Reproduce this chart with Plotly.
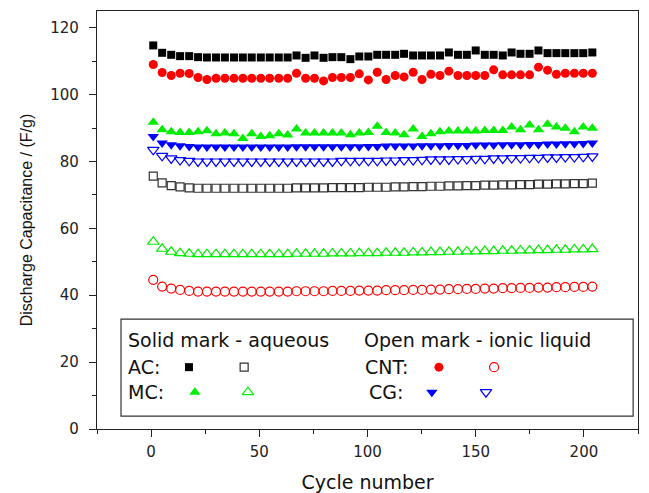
import plotly.graph_objects as go

# Cycle positions (50 evenly spaced measurements)
cycle = [round(1 + 4.14 * i, 1) for i in range(50)]

# Solid marks - aqueous electrolyte
ac_aq = [114.7, 112.5, 111.9, 111.5, 111.5, 111.2, 111.1, 111.1, 111.1, 111.1,
         111.1, 111.1, 111.1, 111.1, 111.1, 111.1, 111.7, 111.0, 111.7, 111.0,
         111.2, 111.2, 110.6, 111.4, 111.4, 111.9, 111.9, 111.9, 112.2, 111.7,
         111.7, 111.7, 111.7, 112.6, 111.9, 111.9, 113.2, 111.9, 111.9, 111.7,
         112.6, 112.2, 112.2, 113.2, 112.4, 112.4, 112.4, 112.4, 112.4, 112.6]
cnt_aq = [109.0, 106.6, 105.7, 106.4, 106.3, 105.1, 104.5, 104.9, 104.9, 104.9,
          104.9, 104.9, 104.9, 104.9, 104.9, 104.9, 106.4, 104.9, 104.9, 104.1,
          105.1, 105.1, 105.1, 106.2, 104.4, 106.7, 104.5, 105.7, 105.3, 106.7,
          104.5, 106.1, 105.7, 107.0, 105.7, 105.7, 105.7, 105.7, 107.4, 105.9,
          105.9, 105.9, 105.9, 108.2, 107.3, 106.1, 106.4, 106.4, 106.4, 106.4]
mc_aq = [91.7, 89.5, 88.9, 88.7, 88.7, 88.9, 89.2, 88.3, 88.5, 88.3,
         86.9, 88.3, 87.5, 87.7, 88.3, 87.9, 89.7, 88.5, 88.5, 88.5,
         88.5, 88.5, 88.0, 88.5, 88.7, 90.5, 88.7, 88.5, 88.0, 89.7,
         87.5, 88.3, 88.9, 89.1, 89.1, 89.1, 89.1, 89.3, 89.3, 89.3,
         90.3, 89.5, 90.9, 89.5, 91.1, 90.3, 89.9, 88.9, 90.3, 89.9]
cg_aq = [87.5, 85.5, 85.0, 84.7, 84.5, 84.3, 84.3, 84.3, 84.3, 84.3,
         84.3, 84.3, 84.3, 84.3, 84.3, 84.3, 84.4, 84.4, 84.4, 84.4,
         84.4, 84.4, 84.4, 84.4, 84.5, 84.5, 84.6, 84.6, 84.6, 84.6,
         84.7, 84.7, 84.7, 84.8, 84.8, 84.8, 84.9, 84.9, 84.9, 85.0,
         85.0, 85.0, 85.1, 85.1, 85.2, 85.2, 85.3, 85.3, 85.4, 85.5]

# Open marks - ionic liquid electrolyte
ac_il = [75.6, 73.6, 72.8, 72.4, 72.1, 72.0, 72.0, 72.0, 72.0, 72.0,
         72.0, 72.0, 72.0, 72.0, 72.0, 72.0, 72.1, 72.1, 72.1, 72.1,
         72.2, 72.2, 72.2, 72.2, 72.3, 72.3, 72.3, 72.4, 72.4, 72.5,
         72.5, 72.6, 72.6, 72.7, 72.7, 72.8, 72.8, 72.9, 72.9, 73.0,
         73.0, 73.1, 73.1, 73.2, 73.2, 73.3, 73.3, 73.4, 73.4, 73.5]
mc_il = [56.0, 53.9, 53.0, 52.6, 52.4, 52.3, 52.3, 52.3, 52.3, 52.3,
         52.3, 52.3, 52.3, 52.3, 52.3, 52.3, 52.4, 52.4, 52.4, 52.4,
         52.5, 52.5, 52.5, 52.6, 52.6, 52.6, 52.7, 52.7, 52.7, 52.8,
         52.8, 52.9, 52.9, 53.0, 53.0, 53.1, 53.1, 53.2, 53.2, 53.3,
         53.3, 53.4, 53.4, 53.5, 53.5, 53.6, 53.6, 53.7, 53.7, 53.8]
cnt_il = [44.6, 42.6, 42.0, 41.6, 41.3, 41.1, 41.1, 41.1, 41.1, 41.1,
          41.1, 41.1, 41.1, 41.1, 41.1, 41.1, 41.2, 41.2, 41.2, 41.2,
          41.3, 41.3, 41.3, 41.4, 41.4, 41.4, 41.5, 41.5, 41.5, 41.6,
          41.6, 41.7, 41.7, 41.8, 41.8, 41.9, 41.9, 42.0, 42.0, 42.1,
          42.1, 42.2, 42.2, 42.3, 42.3, 42.4, 42.4, 42.5, 42.5, 42.6]
cg_il = [83.5, 81.7, 80.9, 80.4, 80.2, 80.0, 80.0, 80.0, 80.0, 80.0,
         80.0, 80.0, 80.0, 80.0, 80.0, 80.0, 80.0, 80.0, 80.0, 80.0,
         80.0, 80.2, 80.2, 80.2, 80.2, 80.2, 80.3, 80.3, 80.4, 80.4,
         80.5, 80.6, 80.6, 80.6, 80.7, 80.7, 80.8, 80.8, 80.9, 80.9,
         81.0, 81.0, 81.1, 81.1, 81.2, 81.2, 81.3, 81.3, 81.4, 81.5]

x_ticks = [0, 50, 100, 150, 200]
y_ticks = [0, 20, 40, 60, 80, 100, 120]

FONT = "DejaVu Sans, Liberation Sans, Arial, sans-serif"
AX = "#222222"

styles = {
    "AC aqueous": (ac_aq, "square", "#000000", 8),
    "CNT aqueous": (cnt_aq, "circle", "#ff0000", 9),
    "MC aqueous": (mc_aq, "triangle-up", "#00ee00", 10),
    "CG aqueous": (cg_aq, "triangle-down", "#0000ff", 10),
    "AC ionic liquid": (ac_il, "square-open", "#333333", 8),
    "MC ionic liquid": (mc_il, "triangle-up-open", "#00ee00", 10),
    "CNT ionic liquid": (cnt_il, "circle-open", "#ff0000", 9),
    "CG ionic liquid": (cg_il, "triangle-down-open", "#0000ff", 10),
}

fig = go.Figure()
for name, (vals, sym, col, size) in styles.items():
    fig.add_trace(go.Scatter(
        x=cycle, y=vals, mode="markers", name=name, showlegend=False,
        marker=dict(symbol=sym, size=size, color=col,
                    line=dict(width=1.2 if "open" in sym else 0, color=col)),
    ))

# Custom legend box (positions in plot-area fractions)
legend_marks = [
    ("square", "#000000", 8, 0.170, 0.148),
    ("square-open", "#333333", 8, 0.272, 0.148),
    ("triangle-up", "#00ee00", 10, 0.181, 0.088),
    ("triangle-up-open", "#00ee00", 10, 0.279, 0.088),
    ("circle", "#ff0000", 9, 0.632, 0.148),
    ("circle-open", "#ff0000", 9, 0.734, 0.148),
    ("triangle-down", "#0000ff", 10, 0.619, 0.088),
    ("triangle-down-open", "#0000ff", 10, 0.719, 0.088),
]
for sym, col, size, lx, ly in legend_marks:
    fig.add_trace(go.Scatter(
        x=[lx], y=[ly], xaxis="x2", yaxis="y2", mode="markers", showlegend=False,
        hoverinfo="skip",
        marker=dict(symbol=sym, size=size, color=col,
                    line=dict(width=1.2 if "open" in sym else 0, color=col)),
    ))

legend_texts = [
    ("Solid mark - aqueous", 0.054, 0.213),
    ("Open mark - ionic liquid", 0.490, 0.213),
    ("AC:", 0.054, 0.148),
    ("MC:", 0.054, 0.088),
    ("CNT:", 0.492, 0.148),
    ("CG:", 0.499, 0.088),
]
annotations = [
    dict(text=t, x=x, y=y, xref="paper", yref="paper", xanchor="left", yanchor="middle",
         showarrow=False, font=dict(family=FONT, size=19, color="#111111"))
    for t, x, y in legend_texts
]

# page body adds an 8px offset; compensate in size/margins
fig.update_layout(
    width=641, height=485,
    margin=dict(l=89, r=11, t=3, b=64, autoexpand=False),
    paper_bgcolor="white", plot_bgcolor="white",
    font=dict(family=FONT, size=15, color=AX),
    annotations=annotations,
    shapes=[dict(type="rect", xref="paper", yref="paper", x0=0.0444, x1=0.991,
                 y0=0.031, y1=0.263, line=dict(color="#333333", width=1.2))],
    xaxis=dict(
        range=[-25, 225], tickvals=x_ticks, ticks="outside", ticklen=7, tickwidth=1,
        tickcolor=AX, showline=True, linecolor=AX, linewidth=1.2,
        mirror=True, showgrid=False, zeroline=False,
        minor=dict(ticks="outside", dtick=25, tick0=0, ticklen=4, tickcolor=AX, showgrid=False),
        title=dict(text="Cycle number", font=dict(size=19, color="#111111"), standoff=17),
        tickfont=dict(size=15), ticklabelstandoff=2,
    ),
    yaxis=dict(
        range=[0, 125], tickvals=y_ticks, ticks="outside", ticklen=7, tickwidth=1,
        tickcolor=AX, showline=True, linecolor=AX, linewidth=1.2,
        mirror=True, showgrid=False, zeroline=False,
        minor=dict(ticks="outside", dtick=10, tick0=0, ticklen=4, tickcolor=AX, showgrid=False),
        title=dict(text="Discharge Capacitance / (F/g)",
                   font=dict(family="Liberation Sans, Arial, sans-serif", size=16, color="#111111"),
                   standoff=13),
        tickfont=dict(size=15), ticklabelstandoff=7,
    ),
    xaxis2=dict(overlaying="x", range=[0, 1], visible=False),
    yaxis2=dict(overlaying="y", range=[0, 1], visible=False),
)

fig.write_html("out.html")
